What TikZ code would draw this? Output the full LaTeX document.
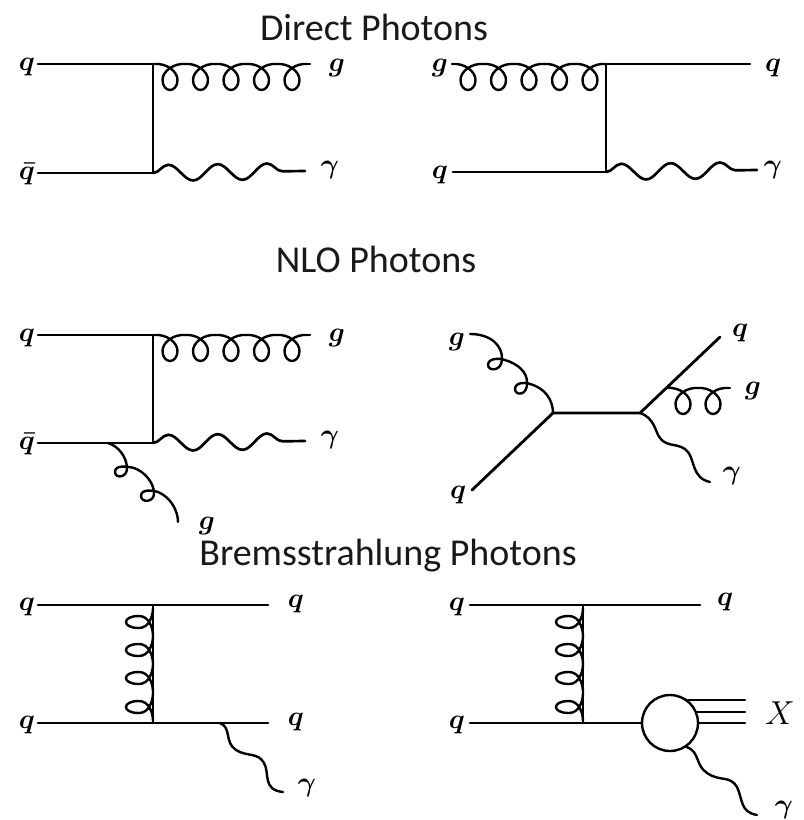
\documentclass[tikz,border=0pt]{standalone}
\usepackage{fontspec}
\setsansfont{Carlito}
\usetikzlibrary{decorations.pathmorphing}

\begin{document}
\begin{tikzpicture}[x=0.75pt,y=-0.75pt,line cap=round]

% Styles
\tikzset{
  title/.style={font=\sffamily\fontsize{28.5}{30}\selectfont,text=black!90,inner sep=0pt},
  lab/.style={font=\fontsize{21}{22}\selectfont\boldmath,inner sep=0pt},
  fermion/.style={line width=2.1pt},
  gluon/.style={line width=1.8pt},
  photon/.style={
    line width=2pt,
    decorate,
    decoration={snake,amplitude=6pt,segment length=37pt}
  },
  freepho/.style={line width=1.8pt},
  % one turn of a gluon along a horizontal line
  gluh/.pic={
    \draw[gluon] (-15.3,0) .. controls (-4,-1) and (7.5,7) .. (7.5,16)
      .. controls (7.5,22) and (4,26) .. (0,26)
      .. controls (-4,26) and (-7.5,22) .. (-7.5,16)
      .. controls (-7.5,7) and (4,-1) .. (15.3,0);
  },
  % one turn of a gluon along a vertical line
  gluv/.pic={
    \draw[gluon] (0,-14) .. controls (0,-6) and (-4,6) .. (-14,6)
      .. controls (-23,6) and (-27,3) .. (-27,0)
      .. controls (-27,-3) and (-23,-6) .. (-14,-6)
      .. controls (-4,-6) and (0,6) .. (0,14);
  }
}

\useasboundingbox (0,0) rectangle (803,820);

% Titles
\node[title] (t1) at (374,27) {Direct Photons};
\node[title] (t2) at (376,259) {NLO Photons};
\node[title] (t3) at (388,556) {Bremsstrahlung Photons};

% ----------------------------
% Direct, left
% ----------------------------
\coordinate (A1) at (38,64);
\coordinate (A2) at (38,173);
\coordinate (Av1) at (153,64);
\coordinate (Av2) at (153,173);
\coordinate (Ag) at (310,64);
\coordinate (Ap) at (305,171);
\node[lab] (Aq) at (27,67) {$q$};
\node[lab] (Aqb) at (27,174) {$\bar q$};
\node[lab] (Agl) at (337,68) {$g$};
\node[lab] (Agm) at (330,170) {$\gamma$};
\draw[fermion] (A1) -- (Av1) -- (Av2) -- (A2);
\foreach \x in {170,200.5,231,261.5,292} \pic at (\x,64) {gluh};
\draw[gluon] (Av1) -- ++(2,0);
\draw[gluon] (Ag) -- ++(-3,0);
\draw[photon] (Av2) -- (Ap);

% ----------------------------
% Direct, right
% ----------------------------
\coordinate (B1) at (452,64);
\coordinate (B2) at (453,172);
\coordinate (Bv1) at (606,64);
\coordinate (Bv2) at (606,172);
\coordinate (Bq) at (750,64);
\coordinate (Bp) at (757,170);
\node[lab] (Bg) at (440,68) {$g$};
\node[lab] (Bq2) at (440,175) {$q$};
\node[lab] (Bq1) at (773,68) {$q$};
\node[lab] (Bgm) at (773,170) {$\gamma$};
\draw[fermion] (Bq) -- (Bv1) -- (Bv2) -- (B2);
\foreach \x in {468,498.5,529,559.5,590} \pic at (\x,64) {gluh};
\draw[gluon] (B1) -- ++(1,0);
\draw[gluon] (Bv1) -- ++(-1,0);
\draw[photon] (Bv2) -- (Bp);

% ----------------------------
% NLO, left
% ----------------------------
\coordinate (C1) at (38,335);
\coordinate (C2) at (38,443);
\coordinate (Cv1) at (153,335);
\coordinate (Cv2) at (153,443);
\coordinate (Cv3) at (108,443);
\coordinate (Cg) at (310,335);
\coordinate (Cp) at (305,441);
\coordinate (Ce) at (178,522);
\node[lab] (Cq) at (27,338) {$q$};
\node[lab] (Cqb) at (27,444) {$\bar q$};
\node[lab] (Cgl) at (337,338) {$g$};
\node[lab] (Cgm) at (330,440) {$\gamma$};
\node[lab] (Cg2) at (207,526) {$g$};
\draw[fermion] (C1) -- (Cv1) -- (Cv2) -- (C2);
\foreach \x in {170,200.5,231,261.5,292} \pic at (\x,335) {gluh};
\draw[gluon] (Cv1) -- ++(2,0);
\draw[gluon] (Cg) -- ++(-3,0);
\draw[photon] (Cv2) -- (Cp);
\draw[gluon] (Cv3) .. controls (118,446) and (126,456) .. (127,467)
  .. controls (128,478) and (115,479) .. (115,472)
  .. controls (115,465) and (126,466) .. (134,468)
  .. controls (145,472) and (153,482) .. (154,492)
  .. controls (155,503) and (141,503) .. (141,496)
  .. controls (141,489) and (152,490) .. (158,492)
  .. controls (170,497) and (178,510) .. (Ce);

% ----------------------------
% NLO, right
% ----------------------------
\coordinate (Dg) at (470,334);
\coordinate (Dq) at (472,490);
\coordinate (Dv1) at (553,413);
\coordinate (Dv2) at (640,413);
\coordinate (Dv3) at (667,387);
\coordinate (Dq2) at (720,337);
\coordinate (Dg2) at (730,388);
\coordinate (Dp) at (710,482);
\node[lab] (Dgl) at (457,342) {$g$};
\node[lab] (Dql) at (458,495) {$q$};
\node[lab] (Dq2l) at (740,333) {$q$};
\node[lab] (Dg2l) at (753,391) {$g$};
\node[lab] (Dgm) at (732,476) {$\gamma$};
\draw[fermion] (Dq) -- (Dv1) -- (Dv2) -- (Dq2);
\draw[gluon] (Dg) .. controls (490,334) and (503,345) .. (502,360)
  .. controls (501,372) and (488,371) .. (488,365)
  .. controls (488,358) and (499,358) .. (505,360)
  .. controls (518,364) and (527,372) .. (527,382)
  .. controls (528,396) and (515,396) .. (515,389)
  .. controls (515,382) and (526,382) .. (530,384)
  .. controls (545,388) and (553,400) .. (Dv1);
\draw[gluon] (Dv3) -- ++(3,0);
\foreach \x in {683,713} \pic at (\x,388) {gluh};
\draw[gluon] (Dg2) -- ++(-3,0);
\draw[freepho] (Dv2) .. controls (655,418) and (655,432) .. (660,438)
  .. controls (667,448) and (680,442) .. (688,452)
  .. controls (695,461) and (692,478) .. (Dp);

% ----------------------------
% Bremsstrahlung, left
% ----------------------------
\coordinate (E1) at (38,605);
\coordinate (E2) at (268,605);
\coordinate (E3) at (38,723);
\coordinate (E4) at (268,723);
\coordinate (Ev1) at (153,605);
\coordinate (Ev2) at (153,723);
\coordinate (Ev3) at (220,723);
\coordinate (Ep) at (283,792);
\node[lab] (Eq1) at (27,607) {$q$};
\node[lab] (Eq2) at (296,604) {$q$};
\node[lab] (Eq3) at (27,725) {$q$};
\node[lab] (Eq4) at (296,722) {$q$};
\node[lab] (Egm) at (307,788) {$\gamma$};
\draw[fermion] (E1) -- (E2);
\draw[fermion] (E3) -- (E4);
\draw[gluon] (Ev1) -- (Ev2);
\foreach \y in {622,650,678,707} \pic at (153,\y) {gluv};
\draw[freepho] (Ev3) .. controls (232,728) and (224,742) .. (236,750)
  .. controls (247,757) and (258,752) .. (264,763)
  .. controls (270,773) and (262,790) .. (Ep);

% ----------------------------
% Bremsstrahlung, right
% ----------------------------
\coordinate (F1) at (470,605);
\coordinate (F2) at (700,605);
\coordinate (F3) at (470,723);
\coordinate (Fv1) at (583,605);
\coordinate (Fv2) at (583,723);
\coordinate (Fp) at (757,815);
\coordinate (Fx1) at (745,701);
\coordinate (Fx2) at (745,712);
\coordinate (Fx3) at (745,723);
\node[circle,draw,line width=1.8pt,minimum size=42pt,inner sep=0pt] (blob) at (670,723) {};
\node[lab] (Fq1) at (457,607) {$q$};
\node[lab] (Fq2) at (725,602) {$q$};
\node[lab] (Fq3) at (457,725) {$q$};
\node[lab,font=\fontsize{24}{24}\selectfont] (FX) at (780,713) {$X$};
\node[lab] (Fgm) at (784,810) {$\gamma$};
\draw[fermion] (F1) -- (F2);
\draw[fermion] (F3) -- (blob);
\draw[gluon] (Fv1) -- (Fv2);
\foreach \y in {622,650,678,707} \pic at (583,\y) {gluv};
\draw[line width=1.5pt] (blob.52) -- (blob.52 -| Fx1);
\draw[line width=1.5pt] (blob.23) -- (blob.23 -| Fx2);
\draw[line width=1.5pt] (blob.east) -- (Fx3);
\draw[freepho] (blob.-55) .. controls (700,752) and (695,765) .. (707,773)
  .. controls (720,782) and (730,775) .. (737,787)
  .. controls (743,800) and (740,812) .. (Fp);

\end{tikzpicture}
\end{document}
